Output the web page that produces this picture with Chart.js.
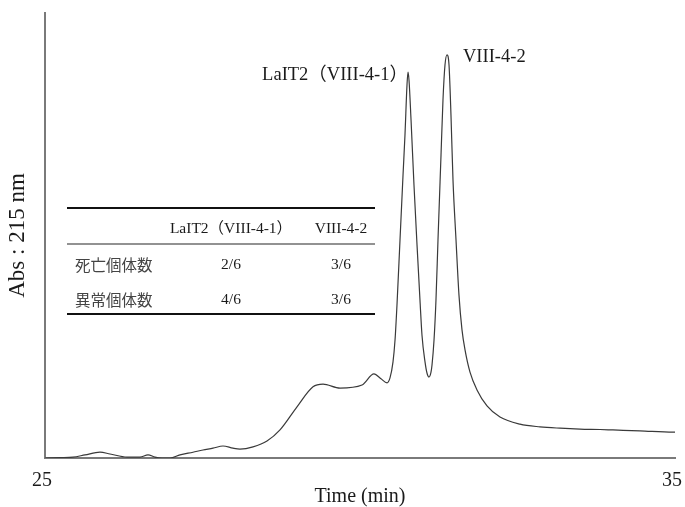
<!DOCTYPE html>
<html>
<head>
<meta charset="utf-8">
<script src="https://cdn.jsdelivr.net/npm/chart.js@4/dist/chart.umd.min.js"></script>
<style>
  html, body { margin: 0; padding: 0; background: #ffffff; }
  #wrap { width: 685px; height: 507px; }
</style>
</head>
<body>
<div id="wrap"><canvas id="chrom" width="685" height="507"></canvas></div>
<script>
// HPLC trace, absorbance at 215 nm versus retention time
const timeMin = [
  25.000, 25.238, 25.444, 25.635, 25.873, 26.032, 26.302, 26.508, 26.635, 26.746,
  26.857, 26.984, 27.143, 27.349, 27.508, 27.667, 27.825, 27.984, 28.095, 28.302,
  28.524, 28.730, 29.000, 29.254, 29.413, 29.683, 30.032, 30.222, 30.333, 30.429,
  30.476, 30.524, 30.556, 30.587, 30.635, 30.683, 30.714, 30.746, 30.762, 30.778,
  30.810, 30.857, 30.905, 30.952, 30.984, 31.032, 31.063, 31.095, 31.127, 31.143,
  31.175, 31.206, 31.238, 31.286, 31.317, 31.349, 31.381, 31.413, 31.444, 31.476,
  31.524, 31.571, 31.619, 31.667, 31.746, 31.857, 32.016, 32.222, 32.540, 32.857,
  33.175, 33.492, 33.810, 34.016, 34.444, 34.968, 35.000
];
const absorbance = [
  0.000, 0.001, 0.002, 0.007, 0.013, 0.009, 0.002, 0.002, 0.007, 0.002,
  0.000, 0.000, 0.007, 0.013, 0.018, 0.022, 0.027, 0.022, 0.020, 0.025,
  0.038, 0.063, 0.115, 0.160, 0.166, 0.157, 0.164, 0.189, 0.178, 0.169,
  0.180, 0.216, 0.265, 0.344, 0.490, 0.636, 0.726, 0.838, 0.867, 0.849,
  0.760, 0.613, 0.479, 0.355, 0.276, 0.216, 0.191, 0.182, 0.193, 0.209,
  0.265, 0.355, 0.490, 0.681, 0.804, 0.883, 0.906, 0.883, 0.771, 0.625,
  0.490, 0.366, 0.288, 0.243, 0.193, 0.153, 0.117, 0.092, 0.076, 0.070,
  0.067, 0.065, 0.064, 0.063, 0.061, 0.058, 0.058
];

// x-axis tick labels
const xTicks = [25, 35];

// peak names and their retention times
const peakNames = ['LaIT2（VIII-4-1）', 'VIII-4-2'];
const peakTimes = [30.762, 31.381];

// bioassay summary table
const tableHeader = ['', 'LaIT2（VIII-4-1）', 'VIII-4-2'];
const rowLabels = ['死亡個体数', '異常個体数'];
const colLaIT2 = ['2/6', '4/6'];
const colVIII42 = ['3/6', '3/6'];

const SERIF = "'Liberation Serif', 'Times New Roman', 'Noto Sans CJK JP', serif";
const CJK = "'Noto Sans CJK JP', 'Noto Sans CJK SC', sans-serif";
const INK = '#1a1a1a';
const AXIS = '#7a7a7a';

const peakLabelPlugin = {
  id: 'peakLabels',
  afterDatasetsDraw(chart) {
    const { ctx, scales: { x, y } } = chart;
    ctx.save();
    ctx.fillStyle = INK;
    ctx.font = '18.5px ' + SERIF;
    ctx.textBaseline = 'alphabetic';
    peakTimes.forEach((t, i) => {
      const idx = timeMin.indexOf(t);
      const px = x.getPixelForValue(t);
      const py = y.getPixelForValue(absorbance[idx]);
      if (i === 0) {
        ctx.textAlign = 'right';
        ctx.fillText(peakNames[i], px, py + 8);
      } else {
        ctx.textAlign = 'left';
        ctx.fillText(peakNames[i], px + 16, py + 7);
      }
    });
    ctx.restore();
  }
};

const tablePlugin = {
  id: 'summaryTable',
  afterDraw(chart) {
    const { ctx, chartArea } = chart;
    const left = chartArea.left + 22;
    const right = chartArea.left + 330;
    const top = chartArea.top + 195;
    const colX = [chartArea.left + 30, chartArea.left + 186, chartArea.left + 296];
    const headerY = top + 21;
    const midRule = top + 36;
    const rowY = [top + 57, top + 92];
    const bottomRule = top + 106;

    ctx.save();
    // rules
    ctx.strokeStyle = '#111111';
    ctx.lineWidth = 2;
    ctx.beginPath();
    ctx.moveTo(left, top); ctx.lineTo(right, top);
    ctx.moveTo(left, bottomRule); ctx.lineTo(right, bottomRule);
    ctx.stroke();
    ctx.strokeStyle = '#6e6e6e';
    ctx.lineWidth = 1.5;
    ctx.beginPath();
    ctx.moveTo(left, midRule); ctx.lineTo(right, midRule);
    ctx.stroke();

    // header
    ctx.fillStyle = INK;
    ctx.textBaseline = 'middle';
    ctx.textAlign = 'center';
    ctx.font = '15.5px ' + SERIF;
    ctx.fillText(tableHeader[1], colX[1], headerY);
    ctx.fillText(tableHeader[2], colX[2], headerY);

    // body rows
    rowLabels.forEach((lab, r) => {
      ctx.textAlign = 'left';
      ctx.font = '15.5px ' + CJK;
      ctx.fillStyle = '#444444';
      ctx.fillText(lab, left + 8, rowY[r]);
      ctx.textAlign = 'center';
      ctx.font = '15.5px ' + SERIF;
      ctx.fillStyle = INK;
      ctx.fillText(colLaIT2[r], colX[1], rowY[r]);
      ctx.fillText(colVIII42[r], colX[2], rowY[r]);
    });
    ctx.restore();
  }
};

new Chart(document.getElementById('chrom'), {
  type: 'line',
  data: {
    datasets: [{
      data: timeMin.map((t, i) => ({ x: t, y: absorbance[i] })),
      borderColor: '#3a3a3a',
      borderWidth: 1.2,
      pointRadius: 0,
      cubicInterpolationMode: 'monotone',
      fill: false
    }]
  },
  options: {
    responsive: false,
    animation: false,
    devicePixelRatio: 1,
    layout: { padding: { top: 13, right: 10, left: 0, bottom: 0 } },
    plugins: { legend: { display: false }, tooltip: { enabled: false } },
    scales: {
      x: {
        type: 'linear',
        min: 25,
        max: 35,
        grid: { display: false, drawTicks: false },
        border: { display: true, color: AXIS, width: 2 },
        afterBuildTicks(scale) { scale.ticks = xTicks.map(v => ({ value: v })); },
        ticks: { padding: 11, labelOffset: -3, color: INK, font: { family: SERIF, size: 20 }, maxRotation: 0 },
        title: {
          display: true, text: 'Time (min)', color: INK,
          font: { family: SERIF, size: 20, lineHeight: 1 },
          padding: { top: 0, bottom: 0 }
        },
        afterFit(scale) {
          scale.height = 49;
          scale.paddingLeft = 0;
          scale.paddingRight = 0;
        }
      },
      y: {
        min: 0,
        max: 1,
        grid: { display: false, drawTicks: false },
        border: { display: true, color: AXIS, width: 2 },
        ticks: { display: false },
        title: {
          display: true, text: 'Abs : 215 nm', color: INK,
          font: { family: SERIF, size: 23, lineHeight: 1 },
          padding: { top: 6, bottom: 0 }
        },
        afterFit(scale) { scale.width = 45; }
      }
    }
  },
  plugins: [peakLabelPlugin, tablePlugin]
});
</script>
</body>
</html>
